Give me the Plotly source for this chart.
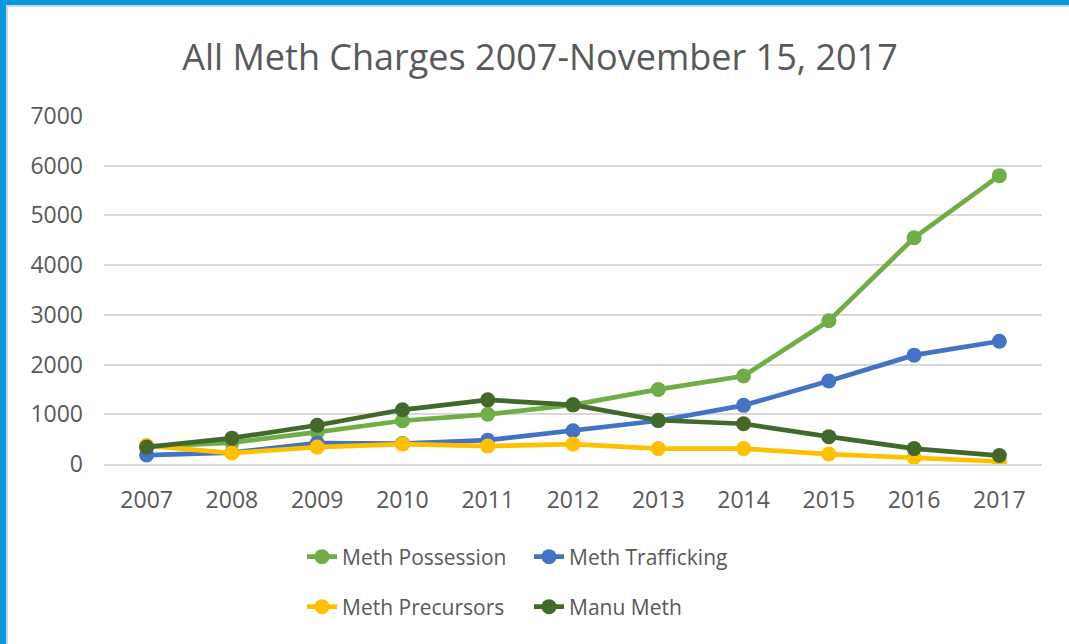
import plotly.graph_objects as go

# Annual meth-related charge counts, 2007 through Nov 15, 2017
years = ["2007", "2008", "2009", "2010", "2011", "2012",
         "2013", "2014", "2015", "2016", "2017"]
possession = [350, 430, 640, 870, 1000, 1190, 1500, 1770, 2880, 4550, 5800]
trafficking = [180, 230, 420, 410, 480, 670, 870, 1180, 1670, 2190, 2470]
precursors = [370, 220, 340, 400, 360, 400, 310, 310, 200, 130, 50]
manu_meth = [340, 520, 780, 1090, 1290, 1190, 880, 810, 550, 310, 170]

y_ticks = [0, 1000, 2000, 3000, 4000, 5000, 6000, 7000]

FONT = "Open Sans"
GREY = "#595959"

series = [
    ("Meth Possession", possession, "#70AD47", "legend"),
    ("Meth Trafficking", trafficking, "#4472C4", "legend"),
    ("Meth Precursors", precursors, "#FFC000", "legend2"),
    ("Manu Meth", manu_meth, "#43682B", "legend2"),
]

fig = go.Figure()
for name, vals, color, leg in series:
    fig.add_trace(go.Scatter(
        x=years, y=vals, name=name, mode="lines+markers",
        line=dict(color=color, width=4.7),
        marker=dict(color=color, size=15),
        legend=leg,
    ))

W, H = 1069, 644
L, R, T, B = 104, 27, 116, 180
pw, ph = W - L - R, H - T - B

def px_x(p):
    return (p - L) / pw

def px_y(p):
    return (H - B - p) / ph

# Frame along the top and left edges
frame = [
    dict(x0=px_x(6), x1=px_x(8), y0=px_y(H), y1=px_y(5), color="#D4D4D4"),
    dict(x0=px_x(6), x1=px_x(W), y0=px_y(7), y1=px_y(5), color="#D4D4D4"),
    dict(x0=px_x(0), x1=px_x(6), y0=px_y(H), y1=px_y(0), color="#0A99DD"),
    dict(x0=px_x(0), x1=px_x(W), y0=px_y(5), y1=px_y(0), color="#0A99DD"),
]
shapes = [dict(type="rect", xref="paper", yref="paper", x0=f["x0"], x1=f["x1"],
               y0=f["y0"], y1=f["y1"], fillcolor=f["color"], line=dict(width=0),
               layer="above") for f in frame]

legend_common = dict(
    orientation="h", xref="container", yref="container",
    xanchor="left", yanchor="middle",
    font=dict(family=FONT, size=21, color=GREY),
    entrywidth=182, bgcolor="rgba(0,0,0,0)",
)

fig.update_layout(
    width=W, height=H,
    margin=dict(l=L, r=R, t=T, b=B),
    paper_bgcolor="white", plot_bgcolor="white",
    font=dict(family=FONT, color=GREY),
    title=dict(text="All Meth Charges 2007-November 15, 2017",
               x=540 / W, xanchor="center", xref="container",
               y=1 - 57 / H, yanchor="middle", yref="container",
               font=dict(family=FONT, size=36, color=GREY)),
    showlegend=True,
    legend=dict(x=302 / W, y=1 - 557 / H, **legend_common),
    legend2=dict(x=302 / W, y=1 - 607 / H, **legend_common),
    shapes=shapes,
    xaxis=dict(
        type="category", range=[-0.5, len(years) - 0.5],
        showgrid=False, showline=True, linecolor="#D9D9D9", linewidth=1.5,
        ticks="", tickfont=dict(family=FONT, size=23, color=GREY),
        ticklabelstandoff=15, fixedrange=True,
    ),
    yaxis=dict(
        range=[0, 7000], tickvals=y_ticks,
        showgrid=True, gridcolor="#D9D9D9", gridwidth=1.5,
        zeroline=False, showline=False, ticks="",
        tickfont=dict(family=FONT, size=23, color=GREY),
        ticklabelstandoff=20, fixedrange=True,
    ),
)

fig.write_html("out.html")
